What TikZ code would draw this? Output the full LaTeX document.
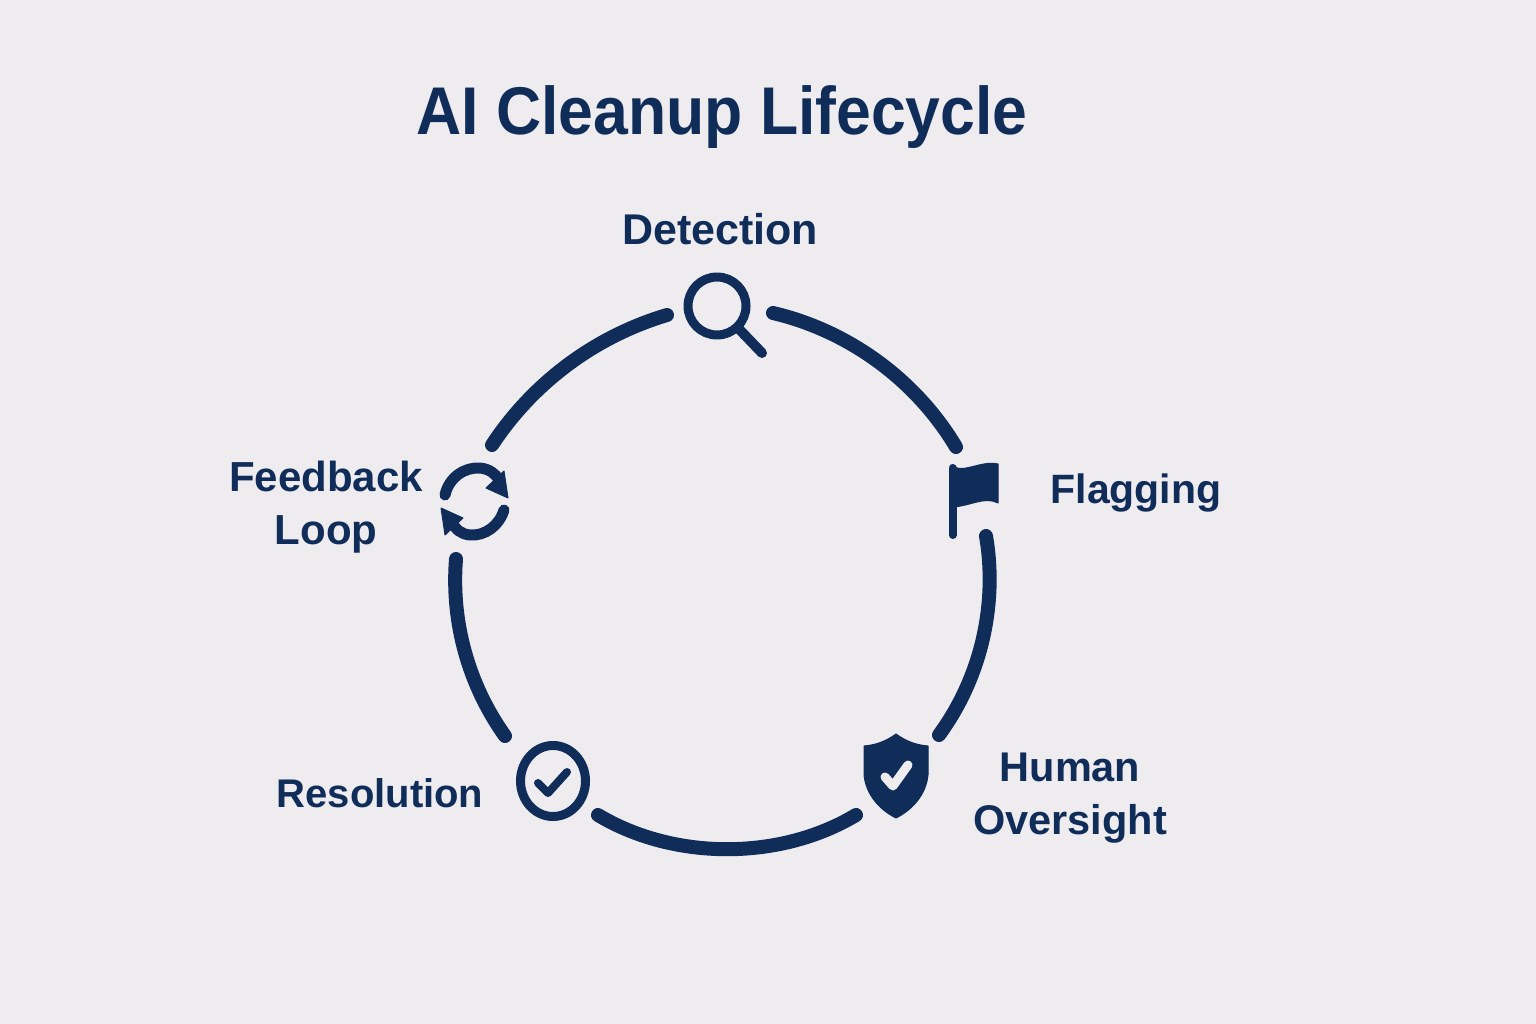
\documentclass[tikz,border=0pt]{standalone}
\usepackage{fontspec}
\setmainfont{Liberation Sans}
\definecolor{navy}{HTML}{102D5A}
\definecolor{paper}{HTML}{EFECEF}
\tikzset{
 x=1pt,y=-1pt,
 ring/.style={draw=navy,line width=14pt,line cap=round,looseness=0.88},
 iconline/.style={draw=navy,line width=9pt,line cap=round,line join=round},
 iconfill/.style={fill=navy,draw=navy,line width=1pt,line join=round},
 lbl/.style={text=navy,font=\fontsize{#1}{53}\selectfont\bfseries,align=center,inner sep=0pt},
 lbl/.default=41,
 ttl/.style={text=navy,font=\fontsize{62.5}{72}\selectfont\bfseries,inner sep=0pt,yscale=1.08}
}
\begin{document}
\begin{tikzpicture}
\useasboundingbox[fill=paper] (0,0) rectangle (1536,1024);
\node[ttl] (title) at (722,117) {AI Cleanup Lifecycle};
\node[lbl=43] (det) at (720,229) {Detection};
\node[lbl] (flg) at (1136,493) {Flagging};
\node[lbl=41.5] (hum) at (1070,798) {Human\\Oversight};
\node[lbl=40] (res) at (380,793) {Resolution};
\node[lbl=42] (fee) at (326,507) {Feedback\\Loop};
\coordinate (a1) at (773,313);
\coordinate (a2) at (956,447);
\coordinate (b1) at (986,536);
\coordinate (b2) at (939,735);
\coordinate (c1) at (856,815);
\coordinate (c2) at (598,815);
\coordinate (d1) at (505,736);
\coordinate (d2) at (456,559);
\coordinate (e1) at (492,445);
\coordinate (e2) at (667,315);
\draw[ring] (a1) to[bend left=23] (a2);
\draw[ring] (b1) to[bend left=23] (b2);
\draw[ring] (c1) to[bend left=31] (c2);
\draw[ring] (d1) to[bend left=20] (d2);
\draw[ring] (e1) to[bend left=20] (e2);
% magnifier
\draw[iconline] (717,306) circle[radius=29];
\draw[iconline,line width=10pt] (739,329) -- (762,353);
% flag
\draw[iconline,line width=8pt] (952.500,468) -- (952.500,535);
\fill[iconfill] (951,465) .. controls (962,475) and (980,460) .. (998,464) -- (998,503) .. controls (985,496) and (970,506) .. (953,507) -- cycle;
% shield
\fill[iconfill] (896,734) .. controls (885,742) and (875,745) .. (864,746) -- (864,775) .. controls (866,795) and (880,810) .. (896,818) .. controls (912,810) and (926,795) .. (928,775) -- (928,746) .. controls (917,745) and (907,742) .. (896,734) -- cycle;
\draw[draw=paper,line width=9pt,line cap=round,line join=round] (885,777) -- (893,786) -- (908,765);
% resolution check
\draw[draw=navy,line width=9pt] (553,781) ellipse[x radius=32.500,y radius=35.500];
\draw[iconline,line width=8pt] (538,783) -- (548,793) -- (567,772);
% refresh
\draw[iconline,line width=11pt] (445,495) .. controls (449,477) and (465,467) .. (480,468) .. controls (489,469) and (495,473) .. (499,480);
\fill[iconfill] (504,471) -- (508,498) -- (486,488) -- cycle;
\draw[iconline,line width=11pt] (504,510) .. controls (499,526) and (485,536) .. (470,535) .. controls (461,534) and (456,530) .. (452,522);
\fill[iconfill] (441,508) -- (463,518) -- (445,535) -- cycle;
\end{tikzpicture}
\end{document}
